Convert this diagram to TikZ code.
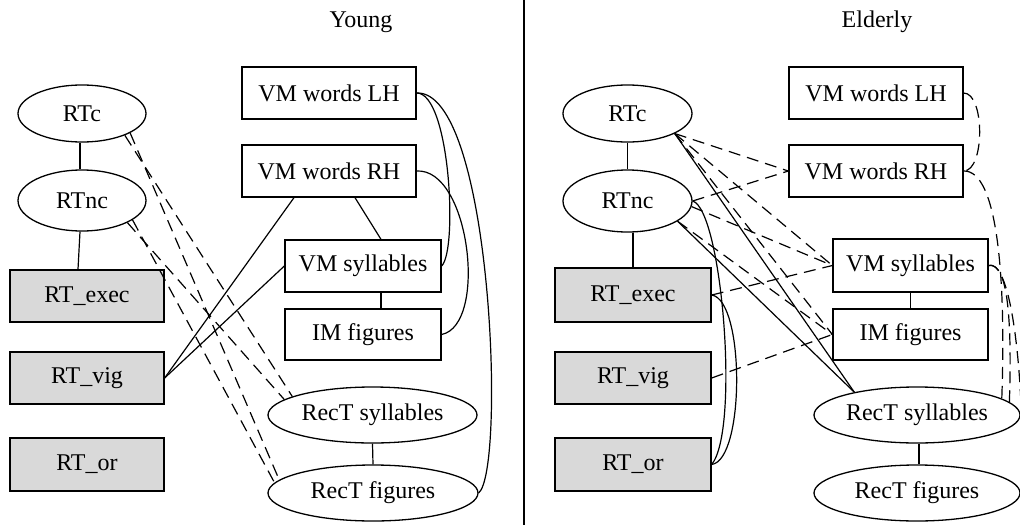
\documentclass[tikz,border=0pt]{standalone}
\usepackage{fontspec}
\setmainfont{Liberation Serif}
\usetikzlibrary{shapes.geometric,calc}
\definecolor{boxgray}{RGB}{217,217,217}
\begin{document}
\begin{tikzpicture}[x=1pt,y=-1pt,
  every node/.style={font=\fontsize{24}{28}\selectfont, inner sep=0pt},
  wbox/.style={draw, line width=1.3pt, rectangle, minimum height=52pt},
  gbox/.style={draw, line width=1.3pt, rectangle, fill=boxgray, minimum height=52pt},
  oval/.style={draw, line width=1.3pt, ellipse},
  conn/.style={line width=1.2pt},
  dconn/.style={line width=1.2pt, dash pattern=on 12pt off 7pt}
]
\useasboundingbox (0,0) rectangle (1020,525);
\fill[white] (0,0) rectangle (1020,525);

% titles and divider
\node (tY) at (361,22) {Young};
\node (tE) at (877,22) {Elderly};
\coordinate (dtop) at (524,0);
\coordinate (dbot) at (524,525);
\draw[conn] (dtop) -- (dbot);

% ---------- left panel ----------
\node[oval,minimum width=128pt,minimum height=57pt] (LRTc) at (82,113.5) {RTc};
\node[oval,minimum width=128pt,minimum height=61pt] (LRTnc) at (82,200.5) {RTnc};
\node[gbox,minimum width=154pt] (LRTexec) at (87,296) {RT\_exec};
\node[gbox,minimum width=154pt] (LRTvig) at (87,378) {RT\_vig};
\node[gbox,minimum width=154pt,minimum height=53pt] (LRTor) at (87,464.5) {RT\_or};
\node[wbox,minimum width=174pt] (LVMLH) at (329,93) {VM words LH};
\node[wbox,minimum width=174pt] (LVMRH) at (329,171) {VM words RH};
\node[wbox,minimum width=156pt] (LVMsyl) at (363,266) {VM syllables};
\node[wbox,minimum width=156pt,minimum height=51pt] (LIMfig) at (363,334.5) {IM figures};
\node[oval,minimum width=209pt,minimum height=56pt] (LRecs) at (372.5,415) {RecT syllables};
\node[oval,minimum width=210pt,minimum height=56pt] (LRecf) at (373,493) {RecT figures};

\draw[conn] ([xshift=-2pt]LRTc.south) -- ([xshift=-2pt]LRTnc.north);
\draw[conn] ([xshift=-2pt]LRTnc.south) -- ([xshift=-9pt]LRTexec.north);
\draw[conn] ([xshift=-35pt]LVMRH.south) -- (LRTvig.east);
\draw[conn] (LVMsyl.west) -- (LRTvig.east);
\draw[conn] ([xshift=26pt]LVMRH.south) -- ([xshift=18pt]LVMsyl.north);
\draw[conn] ([xshift=18pt]LVMsyl.south) -- ([xshift=18pt]LIMfig.north);
\draw[conn] (LRecs.south) -- (LRecf.north);
\draw[conn] (LVMLH.east) .. controls (450,93) and (458,250) .. (LVMsyl.east);
\draw[conn] (LVMLH.east) .. controls (492,90) and (506,470) .. (LRecf.east);
\draw[conn] (LVMRH.east) .. controls (470,168) and (488,325) .. (LIMfig.east);

\draw[dconn] (LRTc.-27) -- (LRecs.167);
\draw[dconn] (LRTc.-22) -- (LRecf.172);
\draw[dconn] (LRTnc.-26) -- (LRecs.170);
\draw[dconn] (LRTnc.-21) -- (LRecf.174);

% ---------- right panel ----------
\node[oval,minimum width=129pt,minimum height=57pt] (RRTc) at (627.5,113.5) {RTc};
\node[oval,minimum width=129pt,minimum height=62pt] (RRTnc) at (627.5,201) {RTnc};
\node[gbox,minimum width=156pt,minimum height=54pt] (RRTexec) at (633,295) {RT\_exec};
\node[gbox,minimum width=156pt] (RRTvig) at (633,378) {RT\_vig};
\node[gbox,minimum width=156pt,minimum height=53pt] (RRTor) at (633,464.5) {RT\_or};
\node[wbox,minimum width=174pt] (RVMLH) at (876,93) {VM words LH};
\node[wbox,minimum width=174pt] (RVMRH) at (876,171) {VM words RH};
\node[wbox,minimum width=155pt,minimum height=53pt] (RVMsyl) at (910.5,265.5) {VM syllables};
\node[wbox,minimum width=155pt,minimum height=51pt] (RIMfig) at (910.5,334.5) {IM figures};
\node[oval,minimum width=206pt,minimum height=56pt] (RRecs) at (917,415) {RecT syllables};
\node[oval,minimum width=206pt,minimum height=56pt] (RRecf) at (917,493) {RecT figures};

\draw[conn] (RRTc) -- (RRTnc);
\draw[conn] ([xshift=5.5pt]RRTnc.south) -- (RRTexec.north);
\draw[conn] (RVMsyl) -- (RIMfig);
\draw[conn] ([xshift=2pt]RRecs.south) -- ([xshift=2pt]RRecf.north);
\draw[conn] (RRTc.-23) -- (RRecs.160);
\draw[conn] (RRTnc.-22) -- (RRecs.160);
\draw[conn] (RRTnc.east) .. controls (722,210) and (740,430) .. (RRTor.east);
\draw[conn] (RRTexec.east) .. controls (745,300) and (745,460) .. (RRTor.east);

\draw[dconn] (RRTc.-23) -- (RVMRH.west);
\draw[dconn] (RRTc.-23) -- (RVMsyl.west);
\draw[dconn] (RRTc.-23) -- (RIMfig.west);
\draw[dconn] (RRTnc.east) -- (RVMRH.west);
\draw[dconn] (RRTnc.-5) -- (RVMsyl.west);
\draw[dconn] (RRTnc.-22) -- (RIMfig.west);
\draw[dconn] (RRTexec.east) -- (RVMsyl.west);
\draw[dconn] (RRTvig.east) -- (RIMfig.west);
\draw[dconn] (RVMLH.east) .. controls (985,93) and (985,171) .. (RVMRH.east);
\draw[dconn] (RVMRH.east) .. controls (998,170) and (1006,280) .. (RRecs.11);
\draw[dconn] (RVMsyl.east) .. controls (1008,262) and (1012,320) .. (RRecs.8);
\draw[dconn] (RVMsyl.east) .. controls (1016,258) and (1026,420) .. (RRecf.east);
\end{tikzpicture}
\end{document}
